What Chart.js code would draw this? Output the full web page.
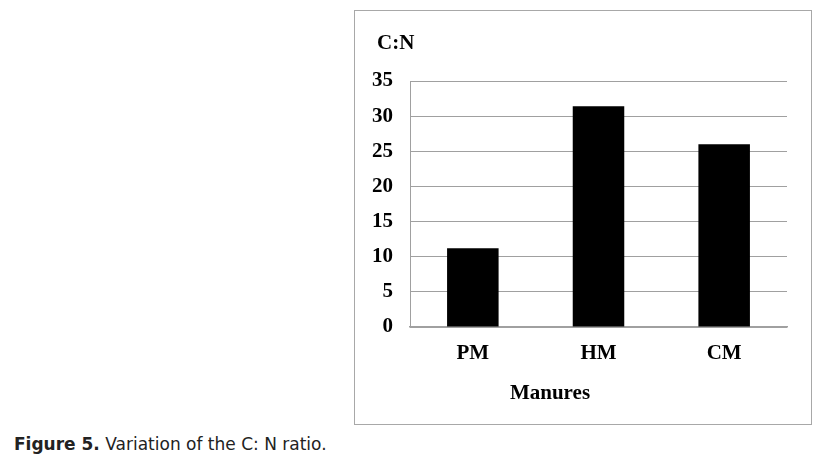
<!DOCTYPE html>
<html lang="en">
<head>
    <meta charset="UTF-8">
    <title>Figure 5</title>
    <script src="https://cdn.jsdelivr.net/npm/chart.js"></script>
    <style>
        body { margin: 0; background: #fff; width: 828px; height: 462px; position: relative; overflow: hidden; }
        .box { position: absolute; left: 354px; top: 10px; width: 456px; height: 413px; border: 1px solid #a8a8a8; }
        .box canvas { display: block; }
        .caption { position: absolute; left: 14px; top: 434px; font-family: "DejaVu Sans", Verdana, sans-serif; font-size: 17px; color: #222; white-space: nowrap; }
    </style>
</head>
<body>

<div class="box"><canvas id="myChart" width="456" height="413"></canvas></div>
<div class="caption"><b>Figure 5.</b> Variation of the C: N ratio.</div>

<script>
    const manures = ['PM', 'HM', 'CM'];
    const cnRatio = [11.2, 31.4, 26.0];
    const yTicks = [0, 5, 10, 15, 20, 25, 30, 35];

    const serif = {family: '"Liberation Serif", "Times New Roman", serif', size: 21, weight: 'bold'};

    // axis captions sit off-centre in the original, so draw them by hand
    const axisText = {
        id: 'axisText',
        afterDraw: (chart) => {
            const {ctx} = chart;
            ctx.save();
            ctx.fillStyle = '#000';
            ctx.font = 'bold 21px "Liberation Serif", "Times New Roman", serif';
            ctx.textBaseline = 'middle';
            ctx.textAlign = 'left';
            ctx.fillText('C:N', 22, 33);
            ctx.textAlign = 'center';
            ctx.fillText('Manures', 195, 383);
            ctx.restore();
        }
    };

    const ctx = document.getElementById('myChart').getContext('2d');

    const chart = new Chart(ctx, {
        type: 'bar',
        data: {
            labels: manures,
            datasets: [{
                label: 'C:N',
                data: cnRatio,
                backgroundColor: '#000',
                borderWidth: 0,
                categoryPercentage: 1,
                barPercentage: 0.41
            }]
        },
        options: {
            responsive: false,
            animation: false,
            layout: {padding: {left: 0, right: 24, top: 70, bottom: 0}},
            plugins: {
                legend: {display: false},
                tooltip: {enabled: false}
            },
            scales: {
                x: {
                    grid: {display: false, drawTicks: false},
                    border: {display: true, color: '#a0a0a0', width: 1.5},
                    ticks: {color: '#000', font: serif, padding: 14},
                    afterFit: s => { s.height = 97; }
                },
                y: {
                    min: 0,
                    max: 35,
                    afterBuildTicks: s => { s.ticks = yTicks.map(v => ({value: v})); },
                    grid: {color: '#a0a0a0', lineWidth: 1, drawTicks: false},
                    border: {display: true, color: '#a0a0a0', width: 1},
                    ticks: {color: '#000', font: serif, padding: 17},
                    afterFit: s => { s.width = 55; }
                }
            }
        },
        plugins: [axisText]
    });
</script>

</body>
</html>
